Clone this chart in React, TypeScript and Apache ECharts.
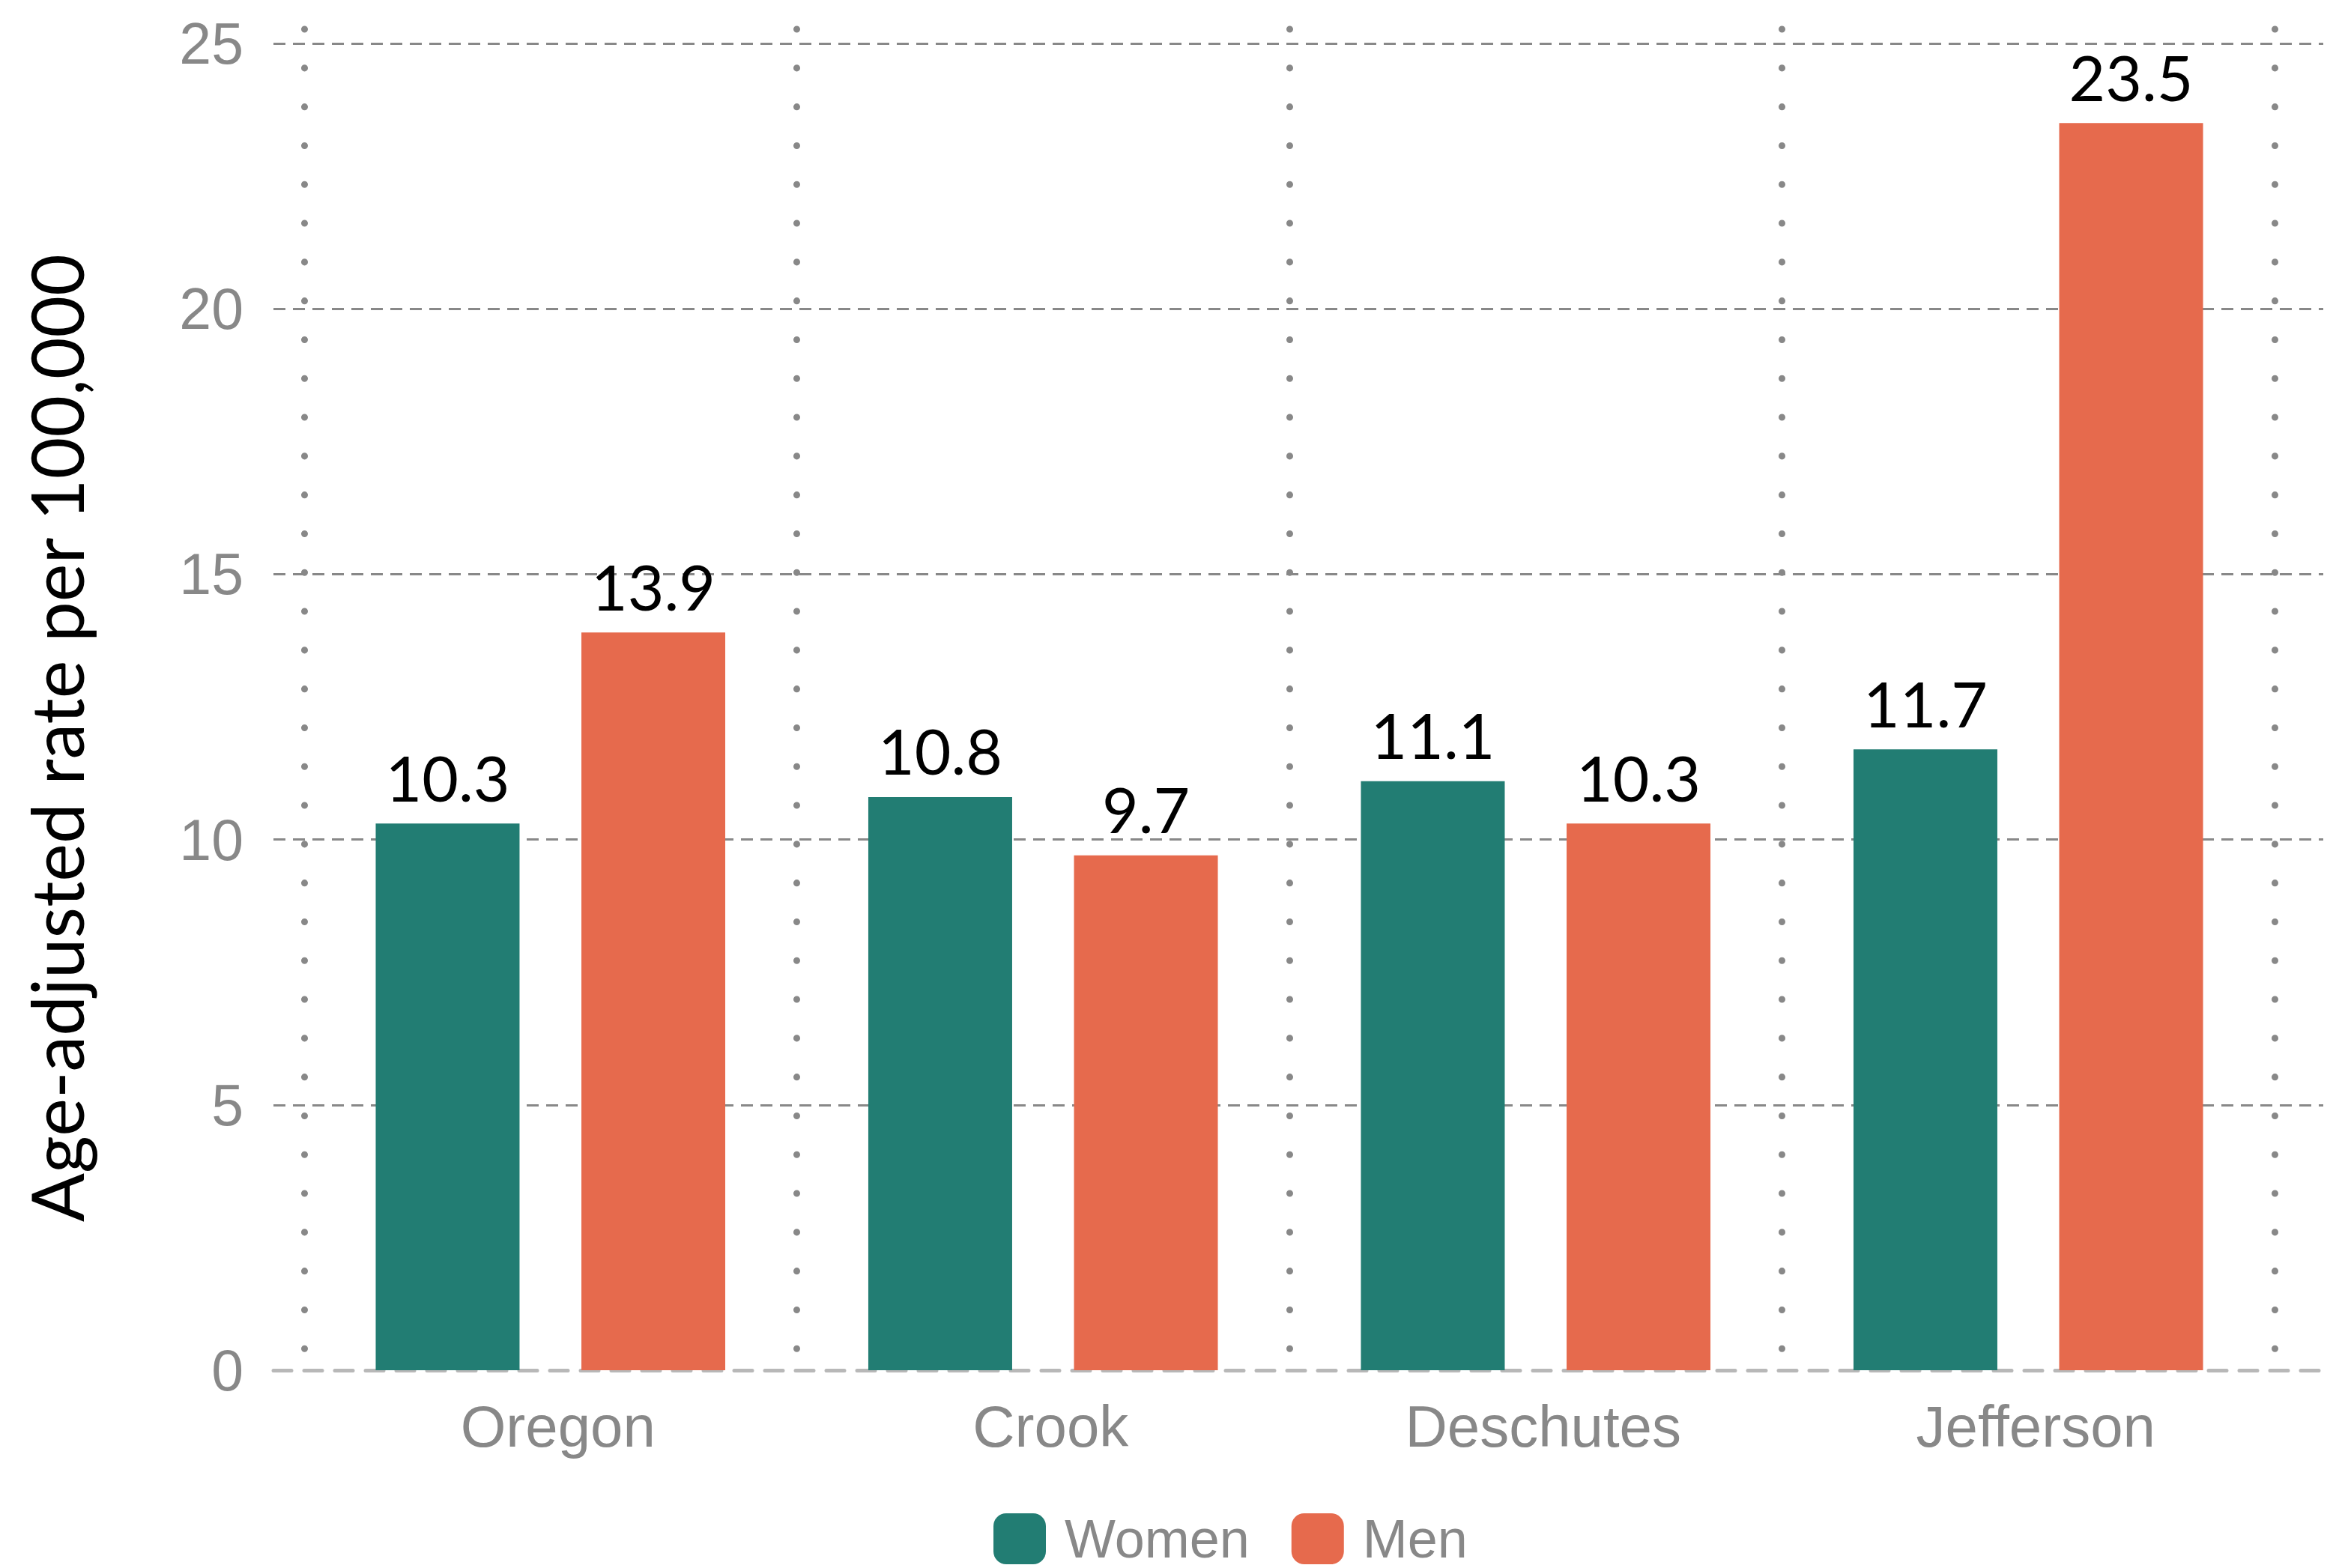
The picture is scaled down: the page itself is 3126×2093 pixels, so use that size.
import React, { useEffect, useRef } from "react";
import * as echarts from "echarts";

const categories = ["Oregon", "Crook", "Deschutes", "Jefferson"];
const seriesNames = ["Women", "Men"];
const women = [10.3, 10.8, 11.1, 11.7];
const men = [13.9, 9.7, 10.3, 23.5];
const yTicks = { min: 0, max: 25, interval: 5 };
const yTitle = "Age-adjusted rate per 100,000";

const W = 3126;
const H = 2093;

export default function App() {
  const ref = useRef<HTMLDivElement>(null);
  useEffect(() => {
    if (!ref.current) return;
    const chart = echarts.init(ref.current, null, { renderer: "svg" });
    const gray = "#888888";
    const sans = "'Liberation Sans', Arial, sans-serif";
    const lato = "Lato, sans-serif";
    const pxPerUnit = (1829 - 58) / yTicks.max;
    const grid1Top = 39;
    const grid1Max = (1829 - grid1Top) / pxPerUnit;
    const labelStyle = {
      show: true,
      position: "top" as const,
      distance: 20,
      color: "#000",
      fontFamily: lato,
      fontSize: 84,
      formatter: (p: any) => Number(p.value).toFixed(1),
    };
    chart.setOption({
      animation: false,
      backgroundColor: "#ffffff",
      grid: [
        { left: 365, right: W - 3101, top: 58, bottom: H - 1829 },
        { left: 406, right: W - 3036, top: grid1Top, bottom: H - 1829 },
      ],
      xAxis: [
        {
          gridIndex: 0,
          type: "value",
          min: 0,
          max: 1,
          axisLabel: { show: false },
          axisTick: { show: false },
          splitLine: { show: false },
          axisLine: {
            show: true,
            lineStyle: { color: "#b8b8b8", width: 5, type: [24, 17] },
          },
        },
        {
          gridIndex: 1,
          type: "category",
          data: categories,
          axisLine: { show: false },
          axisTick: { show: false },
          axisLabel: {
            color: gray,
            fontFamily: sans,
            fontSize: 78,
            margin: 36,
            padding: [0, 0, 0, 20],
          },
          splitLine: {
            show: true,
            interval: 0,
            lineStyle: { color: gray, width: 9, type: [0.1, 51.7], cap: "round" },
          },
        },
      ],
      yAxis: [
        {
          gridIndex: 0,
          type: "value",
          min: yTicks.min,
          max: yTicks.max,
          interval: yTicks.interval,
          axisLine: { show: false },
          axisTick: { show: false },
          axisLabel: {
            color: gray,
            fontFamily: sans,
            fontSize: 77,
            margin: 40,
          },
          splitLine: {
            show: true,
            showMinLine: false,
            lineStyle: { color: gray, width: 3, type: [16, 10] },
          },
        },
        {
          gridIndex: 1,
          type: "value",
          min: 0,
          max: grid1Max,
          show: false,
        },
      ],
      legend: {
        data: seriesNames,
        left: 1326,
        top: 2018,
        padding: 0,
        itemWidth: 70,
        itemHeight: 68,
        itemGap: 56,
        icon: "roundRect",
        textStyle: {
          color: gray,
          fontFamily: sans,
          fontSize: 72,
          padding: [0, 0, 0, 20],
        },
      },
      graphic: [
        {
          type: "text",
          x: 74,
          y: 985,
          rotation: Math.PI / 2,
          style: {
            text: yTitle,
            fill: "#000",
            fontFamily: lato,
            fontSize: 96,
            align: "center",
            verticalAlign: "middle",
          },
        },
      ],
      series: [
        {
          name: seriesNames[0],
          type: "bar",
          xAxisIndex: 1,
          yAxisIndex: 1,
          data: women,
          barWidth: 192,
          barGap: "43%",
          itemStyle: { color: "#227D73" },
          label: labelStyle,
        },
        {
          name: seriesNames[1],
          type: "bar",
          xAxisIndex: 1,
          yAxisIndex: 1,
          data: men,
          barWidth: 192,
          barGap: "43%",
          itemStyle: { color: "#E66A4D" },
          label: labelStyle,
        },
      ],
    });
    return () => chart.dispose();
  }, []);
  return (
    <div
      ref={ref}
      style={{ position: "fixed", left: 0, top: 0, width: W, height: H }}
    />
  );
}
